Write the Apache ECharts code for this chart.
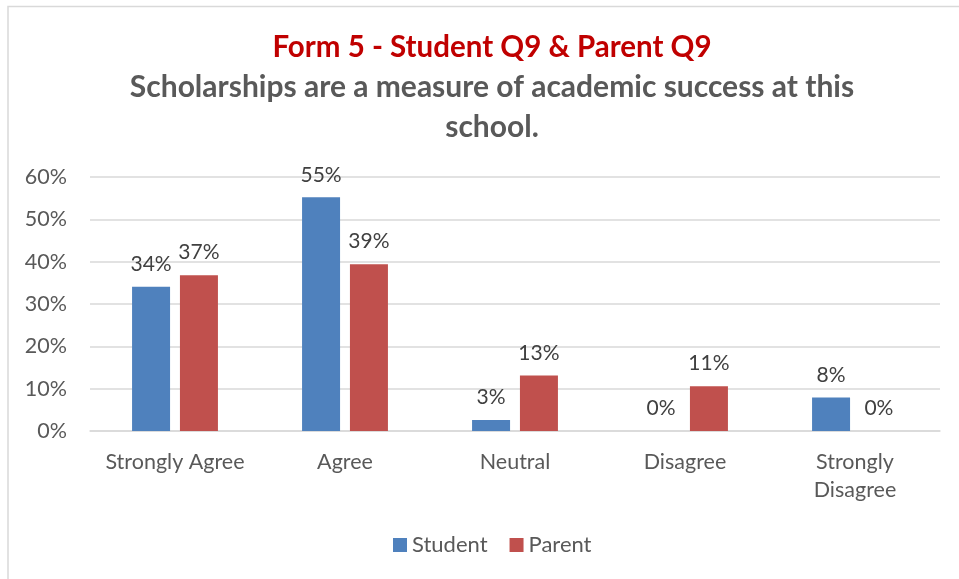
<!DOCTYPE html>
<html><head><meta charset="utf-8">
<script src="https://cdn.jsdelivr.net/npm/echarts@6/dist/echarts.min.js"></script>
<style>html,body{margin:0;padding:0;background:#fff}#c{width:959px;height:579px}</style>
</head><body><div id="c"></div>
<script>
const categories = ['Strongly Agree', 'Agree', 'Neutral', 'Disagree', 'Strongly\nDisagree'];
const studentValues = [34.1, 55.2, 2.6, 0, 7.9];
const parentValues = [36.8, 39.4, 13.1, 10.6, 0];
const yTicks = [0, 10, 20, 30, 40, 50, 60];
const titleMain = 'Form 5 - Student Q9 & Parent Q9';
const titleSub1 = 'Scholarships are a measure of academic success at this';
const titleSub2 = 'school.';

const FONT = 'Lato, "Open Sans", sans-serif';
const chart = echarts.init(document.getElementById('c'), null, {renderer: 'canvas'});
const labelCfg = {
  show: true, position: 'top', distance: 12,
  fontFamily: FONT, fontSize: 21, color: '#404040',
  formatter: p => Math.round(p.value) + '%'
};
chart.setOption({
  animation: false,
  backgroundColor: '#fff',
  graphic: [{
    type: 'rect', shape: {x: 8, y: 6.5, width: 1000, height: 700},
    style: {fill: 'none', stroke: '#d9d9d9', lineWidth: 1.5}, silent: true
  }],
  title: {
    left: 487, textAlign: 'center', top: 22,
    text: '{a|' + titleMain + '}\n{b|' + titleSub1 + '}\n{b|' + titleSub2 + '}',
    textStyle: {
      rich: {
        a: {fontFamily: FONT, fontWeight: 'bold', fontSize: 29.5, color: '#C00000', lineHeight: 40},
        b: {fontFamily: FONT, fontWeight: 'bold', fontSize: 30, color: '#595959', lineHeight: 40}
      }
    }
  },
  legend: {
    bottom: 18, left: 388, itemWidth: 14, itemHeight: 14, itemGap: 22,
    icon: 'rect',
    textStyle: {fontFamily: FONT, fontSize: 22, color: '#595959'},
    data: ['Student', 'Parent']
  },
  grid: {left: 90, right: 19, top: 177, bottom: 148},
  xAxis: {
    type: 'category', data: categories,
    axisLine: {lineStyle: {color: '#d9d9d9', width: 1.5}},
    axisTick: {show: false},
    axisLabel: {fontFamily: FONT, fontSize: 21.5, color: '#595959', margin: 17, lineHeight: 28, interval: 0}
  },
  yAxis: {
    type: 'value', min: 0, max: 60, interval: 10,
    axisLine: {show: false}, axisTick: {show: false},
    splitLine: {lineStyle: {color: '#d9d9d9', width: 1.5}},
    axisLabel: {fontFamily: FONT, fontSize: 21.5, color: '#595959', margin: 23,
      formatter: v => yTicks.includes(v) ? v + '%' : ''}
  },
  series: [
    {name: 'Student', type: 'bar', data: studentValues, barWidth: 38, barGap: '26%',
     itemStyle: {color: '#4F81BD'}, label: labelCfg},
    {name: 'Parent', type: 'bar', data: parentValues, barWidth: 38,
     itemStyle: {color: '#C0504D'}, label: labelCfg}
  ]
});
</script></body></html>
